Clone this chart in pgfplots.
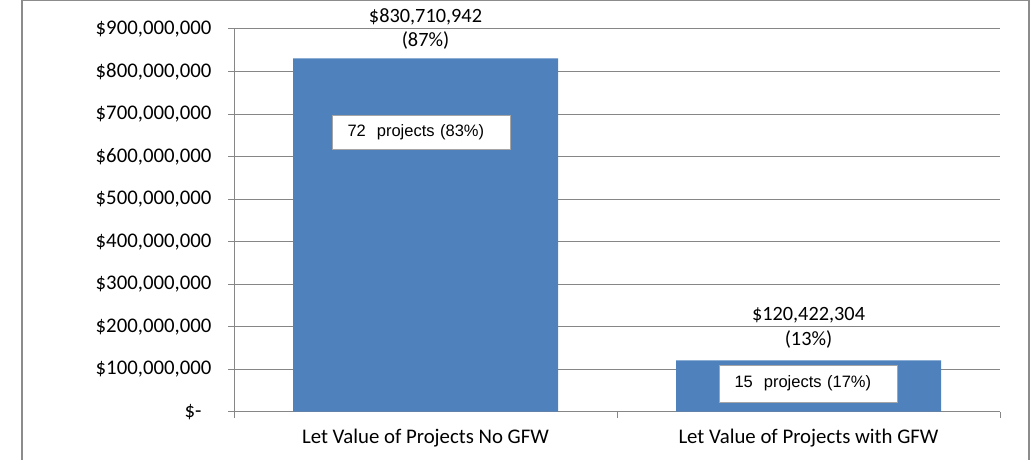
\documentclass[border=0pt]{standalone}
\usepackage{pgfplots}
\pgfplotsset{compat=1.18}
\usepackage{fontspec}
\setmainfont{Carlito}
\newfontfamily\arialfont{Liberation Sans}
\definecolor{barblue}{RGB}{79,129,189}
\definecolor{gridgray}{RGB}{134,134,134}
\definecolor{framegray}{RGB}{140,140,140}
\definecolor{boxgray}{RGB}{165,165,165}

\begin{document}
\begin{tikzpicture}[x=1bp,y=1bp]
\path[use as bounding box] (0,0) rectangle (1035,460);
% outer chart frame (bottom edge is cut off)
\draw[framegray, line width=1.2bp] (22,-5) -- (22,459.3) -- (1029,459.3) -- (1029,-5);
\begin{axis}[
    at={(234bp,48.3bp)}, anchor=south west,
    scale only axis, width=766bp, height=382.7bp,
    xmin=-0.5, xmax=1.5, ymin=0, ymax=900000000,
    axis x line*=bottom, axis y line*=left,
    ybar, bar width=265bp,
    xtick={-0.5,0.5,1.5}, xticklabels={},
    extra x ticks={0,1},
    extra x tick labels={Let Value of Projects No GFW, Let Value of Projects with GFW},
    extra x tick style={major tick length=0pt, xticklabel style={yshift=-14bp, font=\fontsize{20.8bp}{22bp}\selectfont}},
    ytick={0,100000000,200000000,300000000,400000000,500000000,600000000,700000000,800000000,900000000},
    yticklabels={{\$-\kern10bp},{\$100,000,000},{\$200,000,000},{\$300,000,000},{\$400,000,000},{\$500,000,000},{\$600,000,000},{\$700,000,000},{\$800,000,000},{\$900,000,000}},
    yticklabel style={anchor=east, xshift=-13bp, font=\fontsize{20.8bp}{22bp}\selectfont},
    scaled y ticks=false,
    ymajorgrids, grid style={gridgray, line width=1bp},
    axis line style={gridgray, line width=1bp},
    tick style={gridgray, line width=1bp},
    tick align=outside, major tick length=6bp,
    tick label style={text=black},
    clip=false,
]
\addplot[fill=barblue, draw=none] coordinates {(0,830710942) (1,120422304)};

% value labels above the bars
\node[anchor=base, font=\fontsize{20.3bp}{22bp}\selectfont] at (axis cs:0,830710942) [yshift=36bp] {\$830,710,942};
\node[anchor=base, font=\fontsize{20.3bp}{22bp}\selectfont] at (axis cs:0,830710942) [yshift=12bp] {(87\%)};
\node[anchor=base, font=\fontsize{20.3bp}{22bp}\selectfont] at (axis cs:1,120422304) [yshift=40bp] {\$120,422,304};
\node[anchor=base, font=\fontsize{20.3bp}{22bp}\selectfont] at (axis cs:1,120422304) [yshift=15bp] {(13\%)};

% project count boxes
\node[draw=boxgray, fill=white, line width=1bp, text width=148bp, inner xsep=15bp, align=left,
      minimum height=34bp, font=\arialfont\fontsize{16.5bp}{18bp}\selectfont]
      at (axis cs:0,656700000) [xshift=-4bp] {72\ \ projects (83\%)};
\node[draw=boxgray, fill=white, line width=1bp, text width=148bp, inner xsep=15bp, align=left,
      minimum height=37bp, font=\arialfont\fontsize{16.5bp}{18bp}\selectfont]
      at (axis cs:1,66000000) {15\ \ projects (17\%)};
\end{axis}
\end{tikzpicture}
\end{document}
